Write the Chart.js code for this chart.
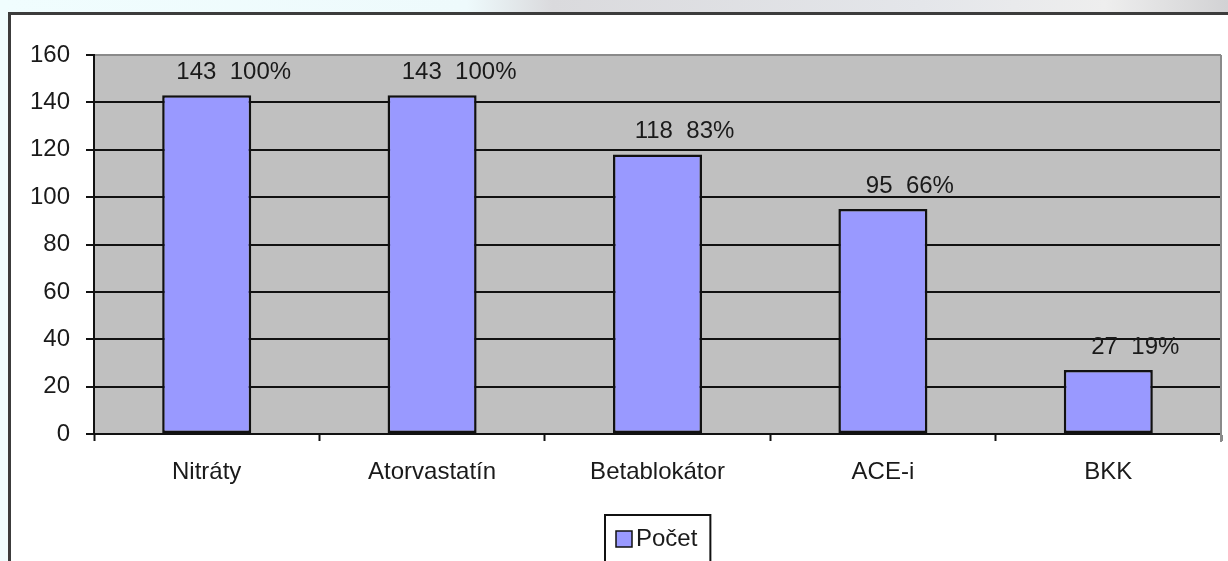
<!DOCTYPE html>
<html lang="sk">
<head>
  <meta charset="UTF-8" />
  <title>Počet</title>
  <script src="https://cdn.jsdelivr.net/npm/chart.js"></script>
  <style>
    html, body {
      margin: 0;
      padding: 0;
      width: 1228px;
      height: 561px;
      overflow: hidden;
      background: linear-gradient(to right, #f0fdfe 0%, #eefafc 38%, #dadadd 45%, #e4e6ea 75%, #eeeeee 90%, #d2d2d4 100%);
    }
    #frame {
      position: absolute;
      left: 8px;
      top: 12px;
      width: 1240px;
      height: 580px;
      border: 3px solid #3c3c3c;
      background: #ffffff;
    }
    #chart-container {
      position: absolute;
      left: 0;
      top: 0;
      width: 1228px;
      height: 561px;
    }
  </style>
</head>
<body>
  <div id="frame"></div>
  <div id="chart-container">
    <canvas id="usageChart" width="1228" height="561"></canvas>
  </div>

  <script>
    const categories = ['Nitráty', 'Atorvastatín', 'Betablokátor', 'ACE-i', 'BKK'];
    const counts = [143, 143, 118, 95, 27];
    const percents = [100, 100, 83, 66, 19];
    const yTicks = [0, 20, 40, 60, 80, 100, 120, 140, 160];

    const FONT = '"Liberation Sans", Arial, sans-serif';
    const TEXT = '#1a1a1a';

    // gray plot background plus the thin right border
    const plotArea = {
      id: 'plotArea',
      beforeDraw(chart) {
        const { ctx, chartArea: a } = chart;
        ctx.save();
        ctx.fillStyle = '#c0c0c0';
        ctx.fillRect(a.left, a.top, a.right - a.left, a.bottom - a.top);
        ctx.restore();
      },
      afterDatasetsDraw(chart) {
        const { ctx, chartArea: a } = chart;
        ctx.save();
        ctx.strokeStyle = '#8a8a8a';
        ctx.lineWidth = 2;
        ctx.beginPath();
        ctx.moveTo(a.right, a.top);
        ctx.lineTo(a.right, a.bottom + 8);
        ctx.stroke();
        ctx.restore();
      }
    };

    // "count  percent%" above each bar
    const valueLabels = {
      id: 'valueLabels',
      afterDatasetsDraw(chart) {
        const { ctx } = chart;
        const meta = chart.getDatasetMeta(0);
        ctx.save();
        ctx.font = '24px ' + FONT;
        ctx.fillStyle = TEXT;
        ctx.textAlign = 'center';
        ctx.textBaseline = 'middle';
        meta.data.forEach((bar, i) => {
          ctx.fillText(counts[i] + '  ' + percents[i] + '%', bar.x + 27, bar.y - 23);
        });
        ctx.restore();
      }
    };

    // boxed legend under the category labels
    const boxLegend = {
      id: 'boxLegend',
      afterDraw(chart) {
        const { ctx, chartArea: a } = chart;
        const ds = chart.data.datasets[0];
        ctx.save();
        ctx.font = '24px ' + FONT;
        const tw = ctx.measureText(ds.label).width;
        const w = 18 + 4 + tw + 22;
        const cx = (a.left + a.right) / 2;
        const x = Math.round(cx - w / 2);
        const y = 515;
        ctx.strokeStyle = '#111';
        ctx.lineWidth = 2;
        ctx.strokeRect(x, y, w, 60);
        ctx.fillStyle = ds.backgroundColor;
        ctx.fillRect(x + 11, y + 16, 16, 16);
        ctx.lineWidth = 1.5;
        ctx.strokeRect(x + 11, y + 16, 16, 16);
        ctx.fillStyle = TEXT;
        ctx.textBaseline = 'middle';
        ctx.fillText(ds.label, x + 31, y + 24);
        ctx.restore();
      }
    };

    const ctx = document.getElementById('usageChart').getContext('2d');
    new Chart(ctx, {
      type: 'bar',
      data: {
        labels: categories,
        datasets: [{
          label: 'Počet',
          data: counts,
          backgroundColor: '#9999ff',
          borderColor: '#111',
          borderWidth: 2.5,
          borderSkipped: false,
          categoryPercentage: 1,
          barPercentage: 0.395
        }]
      },
      options: {
        responsive: false,
        animation: false,
        layout: { padding: { left: 0, right: 7, top: 55, bottom: 67 } },
        scales: {
          x: {
            offset: true,
            afterFit(scale) { scale.height = 60; },
            grid: {
              offset: true,
              drawOnChartArea: false,
              drawTicks: true,
              tickLength: 7,
              tickColor: '#111',
              tickWidth: 2
            },
            border: { display: true, color: '#111', width: 2 },
            ticks: {
              padding: 17,
              color: TEXT,
              font: { family: FONT, size: 24 }
            }
          },
          y: {
            min: 0,
            max: 160,
            afterFit(scale) { scale.width = 94; },
            afterBuildTicks(scale) {
              scale.ticks = yTicks.map(v => ({ value: v }));
            },
            grid: {
              color: c => (c.tick && c.tick.value === 160 ? '#8a8a8a' : '#111'),
              lineWidth: 2,
              drawTicks: true,
              tickLength: 8,
              tickColor: '#111',
              tickWidth: 2
            },
            border: { display: true, color: '#111', width: 2 },
            ticks: {
              padding: 16,
              color: TEXT,
              font: { family: FONT, size: 24 }
            }
          }
        },
        plugins: {
          legend: { display: false },
          tooltip: { enabled: false }
        }
      },
      plugins: [plotArea, valueLabels, boxLegend]
    });
  </script>
</body>
</html>
